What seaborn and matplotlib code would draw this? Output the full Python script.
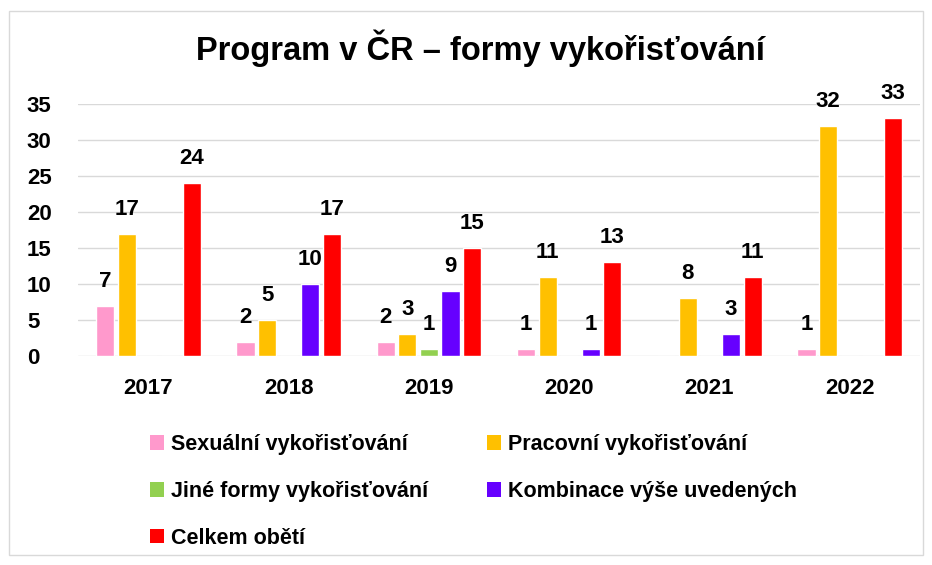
import matplotlib
matplotlib.use("Agg")
import matplotlib.pyplot as plt
import seaborn as sns
import pandas as pd
from matplotlib.patches import Rectangle, Patch

years = ["2017", "2018", "2019", "2020", "2021", "2022"]
series = ["Sexuální vykořisťování", "Pracovní vykořisťování", "Jiné formy vykořisťování",
          "Kombinace výše uvedených", "Celkem obětí"]
sexualni = [7, 2, 2, 1, 0, 1]
pracovni = [17, 5, 3, 11, 8, 32]
jine = [0, 0, 1, 0, 0, 0]
kombinace = [0, 10, 9, 1, 3, 0]
celkem = [24, 17, 15, 13, 11, 33]
colors = ["#FF99CC", "#FFC000", "#92D050", "#6600FF", "#FF0000"]

rows = []
for s, vals in zip(series, [sexualni, pracovni, jine, kombinace, celkem]):
    for y, v in zip(years, vals):
        rows.append({"rok": y, "forma": s, "pocet": v})
df = pd.DataFrame(rows)

sns.set_theme(style="white")
plt.rcParams["font.family"] = ["Liberation Sans", "DejaVu Sans"]
plt.rcParams["text.color"] = "#000000"
plt.rcParams["xtick.color"] = "#000000"
plt.rcParams["ytick.color"] = "#000000"

fig = plt.figure(figsize=(9.32, 5.65), dpi=100)
ax = fig.add_axes([0.084, 0.370, 0.903, 0.446])

sns.barplot(data=df, x="rok", y="pocet", hue="forma", hue_order=series, order=years,
            palette=colors, width=0.77, gap=0.16, ax=ax, legend=False, saturation=1)

ax.set_ylim(0, 35)
ax.set_yticks(range(0, 36, 5))
ax.yaxis.grid(True, color="#D9D9D9", linewidth=1)
ax.set_axisbelow(True)
for sp in ax.spines.values():
    sp.set_visible(False)
ax.set_xlabel("")
ax.set_ylabel("")
ax.tick_params(axis="both", length=0, labelsize=16, labelcolor="#000000")
ax.tick_params(axis="x", pad=16)
ax.tick_params(axis="y", pad=37)
for lab in ax.get_xticklabels() + ax.get_yticklabels():
    lab.set_fontweight("bold")
for lab in ax.get_yticklabels():
    lab.set_horizontalalignment("left")

for cont in ax.containers:
    labels = [f"{int(b.get_height())}" if b.get_height() > 0 else "" for b in cont]
    ax.bar_label(cont, labels=labels, padding=10, fontsize=16, fontweight="bold", color="#000000")

fig.text(0.516, 0.914, "Program v ČR – formy vykořisťování", ha="center", va="center",
         fontsize=23.5, fontweight="bold", color="#000000")

handles = [Patch(facecolor=c, edgecolor="none") for c in colors]
order = [0, 2, 4, 1, 3]
fig.legend([handles[i] for i in order], [series[i] for i in order], ncol=2,
           loc="upper left", bbox_to_anchor=(0.152, 0.247), frameon=False,
           prop={"size": 15.5, "weight": "bold"}, labelcolor="#000000",
           handlelength=0.65, handleheight=0.65, handletextpad=0.3,
           columnspacing=2.75, labelspacing=1.2, borderaxespad=0)

fig.patches.append(Rectangle((0.01, 0.018), 0.98, 0.962, transform=fig.transFigure,
                             fill=False, edgecolor="#D9D9D9", linewidth=1))

fig.savefig("out.png", dpi=100)
